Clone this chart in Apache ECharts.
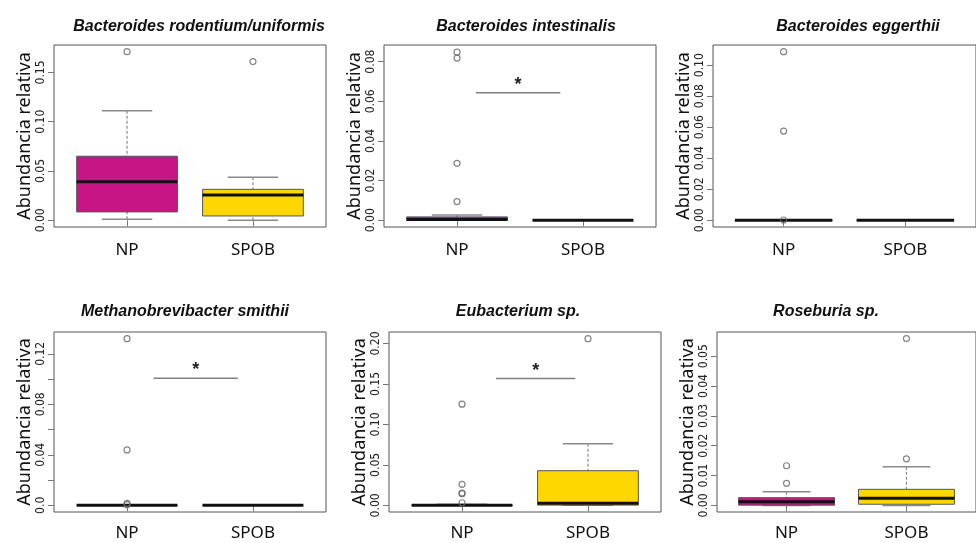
<!DOCTYPE html>
<html>
<head>
<meta charset="utf-8">
<script src="https://cdn.jsdelivr.net/npm/echarts@6.0.0/dist/echarts.min.js"></script>
<style>
  html, body { margin: 0; padding: 0; background: #fff; }
  #chart { width: 976px; height: 543px; }
</style>
</head>
<body>
<div id="chart"></div>
<script>
const groups = ['NP', 'SPOB'];
const groupColors = ['#C71585', '#FFD700'];

const titles = ['Bacteroides rodentium/uniformis', 'Bacteroides intestinalis', 'Bacteroides eggerthii',
  'Methanobrevibacter smithii', 'Eubacterium sp.', 'Roseburia sp.'];

// [whisker low, Q1, median, Q3, whisker high] -> NP, SPOB
const rodentiumBox = [[0.001, 0.0085, 0.039, 0.065, 0.111], [0, 0.0044, 0.0256, 0.0314, 0.0437]];
const intestinalisBox = [[0, 0, 0.0004, 0.0017, 0.0027], [0, 0, 0, 0, 0]];
const eggerthiiBox = [[0, 0, 0, 0, 0], [0, 0, 0, 0, 0]];
const smithiiBox = [[0, 0, 0, 0, 0], [0, 0, 0, 0, 0]];
const eubacteriumBox = [[0, 0, 0, 0, 0.0015], [0, 0.0003, 0.0025, 0.0428, 0.076]];
const roseburiaBox = [[0, 0.0001, 0.0012, 0.0026, 0.0046], [0, 0.0004, 0.0024, 0.0054, 0.013]];

// outliers -> NP, SPOB
const rodentiumOut = [[0.171], [0.161]];
const intestinalisOut = [[0.0094, 0.0287, 0.0818, 0.0848], []];
const eggerthiiOut = [[0.0002, 0.0575, 0.1087], []];
const smithiiOut = [[0.0005, 0.0015, 0.0439, 0.132], []];
const eubacteriumOut = [[0.0032, 0.0145, 0.0152, 0.026, 0.125], [0.206]];
const roseburiaOut = [[0.0074, 0.0133], [0.0156, 0.0559]];

// significance bar: [x from, x to, y]
const intestinalisSig = [1.15, 1.82, 0.0643];
const smithiiSig = [1.21, 1.88, 0.1007];
const eubacteriumSig = [1.27, 1.9, 0.1567];

const rodentiumTicks = [0, 0.05, 0.1, 0.15];
const intestinalisTicks = [0, 0.02, 0.04, 0.06, 0.08];
const eggerthiiTicks = [0, 0.02, 0.04, 0.06, 0.08, 0.1];
const smithiiTicks = [0, 0.02, 0.04, 0.06, 0.08, 0.1, 0.12];
const eubacteriumTicks = [0, 0.05, 0.1, 0.15, 0.2];
const roseburiaTicks = [0, 0.01, 0.02, 0.03, 0.04, 0.05];

const rodentiumLabels = ['0.00', '0.05', '0.10', '0.15'];
const intestinalisLabels = ['0.00', '0.02', '0.04', '0.06', '0.08'];
const eggerthiiLabels = ['0.00', '0.02', '0.04', '0.06', '0.08', '0.10'];
const smithiiLabels = ['0.0', '', '0.04', '', '0.08', '', '0.12'];
const eubacteriumLabels = ['0.00', '0.05', '0.10', '0.15', '0.20'];
const roseburiaLabels = ['0.00', '0.01', '0.02', '0.03', '0.04', '0.05'];

const yRanges = [[-0.0068, 0.1778], [-0.0034, 0.0884], [-0.0043, 0.113],
  [-0.0053, 0.1373], [-0.0082, 0.2142], [-0.0022, 0.0581]];

const panels = [
  { box: rodentiumBox, out: rodentiumOut, sig: null, ticks: rodentiumTicks, labels: rodentiumLabels },
  { box: intestinalisBox, out: intestinalisOut, sig: intestinalisSig, ticks: intestinalisTicks, labels: intestinalisLabels },
  { box: eggerthiiBox, out: eggerthiiOut, sig: null, ticks: eggerthiiTicks, labels: eggerthiiLabels },
  { box: smithiiBox, out: smithiiOut, sig: smithiiSig, ticks: smithiiTicks, labels: smithiiLabels },
  { box: eubacteriumBox, out: eubacteriumOut, sig: eubacteriumSig, ticks: eubacteriumTicks, labels: eubacteriumLabels },
  { box: roseburiaBox, out: roseburiaOut, sig: null, ticks: roseburiaTicks, labels: roseburiaLabels }
];

// plot frames (the right column runs off the page like the original)
const frames = [
  { left: 54, top: 45, width: 272, height: 182, titleX: 194, titleY: 14 },
  { left: 384, top: 45, width: 272, height: 182, titleX: 521, titleY: 14 },
  { left: 713, top: 45, width: 272, height: 182, titleX: 853, titleY: 14 },
  { left: 54, top: 332, width: 272, height: 180, titleX: 180, titleY: 299 },
  { left: 389, top: 332, width: 272, height: 180, titleX: 513, titleY: 299 },
  { left: 717, top: 332, width: 272, height: 180, titleX: 821, titleY: 299 }
];

const BOX_HALF = 0.4;
const STAPLE_HALF = 0.2;

function renderBox(params, api) {
  const x = api.value(0);
  const lo = api.value(1), q1 = api.value(2), med = api.value(3), q3 = api.value(4), hi = api.value(5);
  const fill = groupColors[api.value(6)];
  const tl = api.coord([x - BOX_HALF, q3]);
  const br = api.coord([x + BOX_HALF, q1]);
  const cHi = api.coord([x, hi]);
  const cLo = api.coord([x, lo]);
  const sHiL = api.coord([x - STAPLE_HALF, hi]);
  const sHiR = api.coord([x + STAPLE_HALF, hi]);
  const sLoL = api.coord([x - STAPLE_HALF, lo]);
  const sLoR = api.coord([x + STAPLE_HALF, lo]);
  const mL = api.coord([x - BOX_HALF, med]);
  const mR = api.coord([x + BOX_HALF, med]);
  const whisk = { stroke: '#8a8a8a', lineWidth: 1.2, lineDash: [3, 2] };
  const staple = { stroke: '#8a8a8a', lineWidth: 1.5 };
  return {
    type: 'group',
    children: [
      { type: 'line', shape: { x1: cHi[0], y1: cHi[1], x2: cHi[0], y2: tl[1] }, style: whisk },
      { type: 'line', shape: { x1: cLo[0], y1: cLo[1], x2: cLo[0], y2: br[1] }, style: whisk },
      { type: 'line', shape: { x1: sHiL[0], y1: sHiL[1], x2: sHiR[0], y2: sHiR[1] }, style: staple },
      { type: 'line', shape: { x1: sLoL[0], y1: sLoL[1], x2: sLoR[0], y2: sLoR[1] }, style: staple },
      { type: 'rect', shape: { x: tl[0], y: tl[1], width: br[0] - tl[0], height: br[1] - tl[1] },
        style: { fill: fill, stroke: '#555', lineWidth: 1 } },
      { type: 'line', shape: { x1: mL[0], y1: mL[1], x2: mR[0], y2: mR[1] },
        style: { stroke: '#111', lineWidth: 3 } }
    ]
  };
}

function renderSig(params, api) {
  const a = api.coord([api.value(0), api.value(2)]);
  const b = api.coord([api.value(1), api.value(2)]);
  return {
    type: 'group',
    children: [
      { type: 'line', shape: { x1: a[0], y1: a[1], x2: b[0], y2: b[1] },
        style: { stroke: '#808080', lineWidth: 1.5 } },
      { type: 'text', x: (a[0] + b[0]) / 2, y: a[1] + 1,
        style: { text: '*', fill: '#222', font: 'bold 18px "Liberation Sans", Arial, sans-serif',
          align: 'center', verticalAlign: 'bottom' } }
    ]
  };
}

const grid = [], xAxis = [], yAxis = [], series = [], title = [];

panels.forEach(function (p, i) {
  const f = frames[i];
  grid.push({
    left: f.left, top: f.top, width: f.width, height: f.height,
    show: true, borderColor: '#555', borderWidth: 1, backgroundColor: 'transparent'
  });
  title.push({
    text: titles[i],
    left: f.titleX,
    top: f.titleY,
    textAlign: 'center',
    textStyle: { fontFamily: '"Liberation Sans", Arial, sans-serif', fontSize: 16,
      fontWeight: 'bold', fontStyle: 'italic', color: '#111' }
  });
  xAxis.push({
    type: 'value', gridIndex: i, min: 0.42, max: 2.58,
    axisLine: { show: false }, splitLine: { show: false },
    axisTick: { show: true, customValues: [1, 2], length: 6, lineStyle: { color: '#777' } },
    axisLabel: {
      customValues: [1, 2], margin: i < 3 ? 15 : 13,
      formatter: function (v) { return groups[Math.round(v) - 1]; },
      fontFamily: '"Noto Sans", "Open Sans", sans-serif', fontSize: 17, color: '#111'
    }
  });
  yAxis.push({
    type: 'value', gridIndex: i, min: yRanges[i][0], max: yRanges[i][1],
    name: 'Abundancia relativa', nameLocation: 'middle', nameGap: 20,
    nameTextStyle: { fontFamily: '"Noto Sans", "Open Sans", sans-serif', fontSize: 18, color: '#111' },
    axisLine: { show: false }, splitLine: { show: false },
    axisTick: { show: true, customValues: p.ticks, length: 6, lineStyle: { color: '#777' } },
    axisLabel: {
      customValues: p.ticks, rotate: 90, margin: 7,
      formatter: function (v) {
        let k = 0;
        p.ticks.forEach(function (t, j) { if (Math.abs(t - v) < Math.abs(p.ticks[k] - v)) k = j; });
        return p.labels[k];
      },
      fontFamily: '"Liberation Sans Narrow", "DejaVu Sans Condensed", sans-serif', fontSize: 12, color: '#222'
    }
  });
  series.push({
    type: 'custom', xAxisIndex: i, yAxisIndex: i, renderItem: renderBox,
    data: p.box.map(function (b, g) { return [g + 1].concat(b).concat([g]); }),
    z: 2
  });
  const pts = [];
  p.out.forEach(function (vals, g) { vals.forEach(function (v) { pts.push([g + 1, v]); }); });
  series.push({
    type: 'scatter', xAxisIndex: i, yAxisIndex: i, data: pts,
    symbol: 'circle', symbolSize: 6,
    itemStyle: { color: 'rgba(0,0,0,0)', borderColor: '#666', borderWidth: 1.2 },
    z: 3
  });
  if (p.sig) {
    series.push({
      type: 'custom', xAxisIndex: i, yAxisIndex: i, renderItem: renderSig,
      data: [p.sig], z: 3
    });
  }
});

const chart = echarts.init(document.getElementById('chart'));
chart.setOption({
  animation: false,
  backgroundColor: '#fff',
  title: title,
  grid: grid,
  xAxis: xAxis,
  yAxis: yAxis,
  series: series
});
</script>
</body>
</html>
